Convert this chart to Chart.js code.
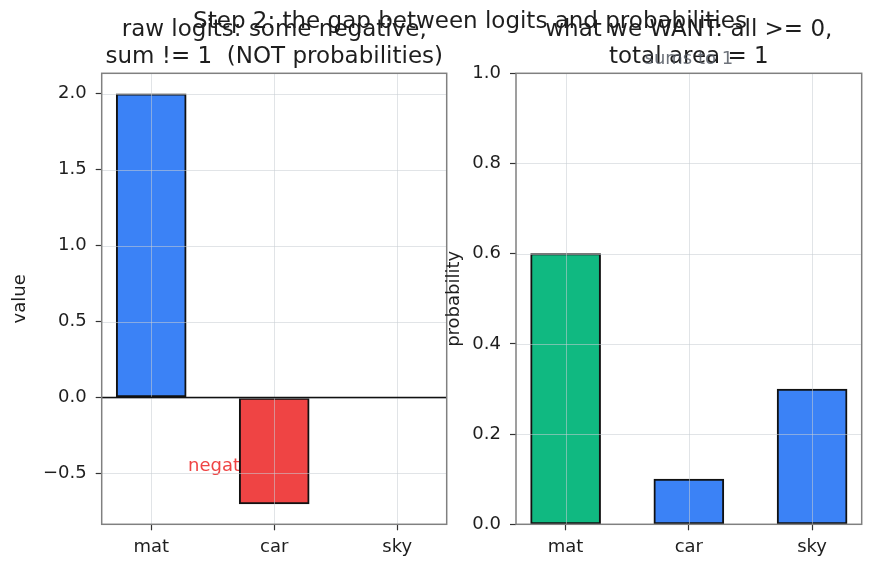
<!DOCTYPE html>
<html>
<head>
<meta charset="utf-8">
<script src="https://cdn.jsdelivr.net/npm/chart.js@4.4.0/dist/chart.umd.min.js"></script>
<style>
    html, body { margin: 0; padding: 0; background: #fff; }
    #wrap { position: relative; width: 875px; height: 572px; }
    .box { position: absolute; top: 0; height: 572px; }
</style>
</head>
<body>
<div id="wrap">
    <div class="box" style="left:0; width:875px;"><canvas id="logitsChart"></canvas></div>
    <div class="box" style="left:440px; width:435px;"><canvas id="probsChart"></canvas></div>
</div>
<script>
// data
const tokens = ['mat', 'car', 'sky'];
const rawLogits = [2.0, -0.7, 0.0];
const targetProbs = [0.6, 0.1, 0.3];
const logitTicks = [-0.5, 0.0, 0.5, 1.0, 1.5, 2.0];
const probTicks = [0.0, 0.2, 0.4, 0.6, 0.8, 1.0];

const BLUE = '#3b82f6';
const RED = '#ef4444';
const GREEN = '#10b981';
const FONT = "'DejaVu Sans', sans-serif";

Chart.defaults.font.family = FONT;
Chart.defaults.font.size = 18;
Chart.defaults.color = '#1e1e1e';

function fmt(v) {
    return (v < 0 ? '\u2212' : '') + Math.abs(v).toFixed(1);
}

// grid over the bars, spines, titles and notes (drawn like the matplotlib figure)
function makeOverlay(cfg) {
    function drawNote(chart, n) {
        const ctx = chart.ctx;
        ctx.save();
        ctx.font = '18px ' + FONT;
        ctx.fillStyle = n.color;
        ctx.textAlign = n.align;
        ctx.textBaseline = n.baseline;
        ctx.fillText(n.text, chart.scales.x.getPixelForValue(n.x), chart.scales.y.getPixelForValue(n.y));
        ctx.restore();
    }
    return {
        id: 'overlay_' + cfg.name,
        beforeDatasetsDraw(chart) {
            (cfg.notes || []).filter(n => n.under).forEach(n => drawNote(chart, n));
        },
        afterDatasetsDraw(chart) {
            const ctx = chart.ctx;
            const a = chart.chartArea;
            const x = chart.scales.x, y = chart.scales.y;
            ctx.save();
            ctx.strokeStyle = 'rgba(200, 205, 212, 0.55)';
            ctx.lineWidth = 1;
            ctx.beginPath();
            x.ticks.forEach(t => {
                const px = Math.round(x.getPixelForValue(t.value)) + 0.5;
                ctx.moveTo(px, a.top); ctx.lineTo(px, a.bottom);
            });
            y.ticks.forEach(t => {
                const py = Math.round(y.getPixelForValue(t.value)) + 0.5;
                ctx.moveTo(a.left, py); ctx.lineTo(a.right, py);
            });
            ctx.stroke();
            if (cfg.zeroLine) {
                const py = y.getPixelForValue(0);
                ctx.strokeStyle = '#111';
                ctx.lineWidth = 1.6;
                ctx.beginPath();
                ctx.moveTo(a.left, py); ctx.lineTo(a.right, py);
                ctx.stroke();
            }
            ctx.strokeStyle = '#808080';
            ctx.lineWidth = 1.5;
            ctx.strokeRect(a.left, a.top, a.right - a.left, a.bottom - a.top);
            ctx.restore();
        },
        afterDraw(chart) {
            const ctx = chart.ctx;
            const a = chart.chartArea;
            const cx = (a.left + a.right) / 2;
            ctx.save();
            ctx.fillStyle = '#1e1e1e';
            ctx.textAlign = 'center';
            ctx.textBaseline = 'alphabetic';
            ctx.font = '23px ' + FONT;
            cfg.title.forEach((line, i) => ctx.fillText(line, cx, 36 + i * 27));
            if (cfg.suptitle) ctx.fillText(cfg.suptitle, 470, 28);
            ctx.font = '18px ' + FONT;
            ctx.translate(cfg.yLabelX, (a.top + a.bottom) / 2);
            ctx.rotate(-Math.PI / 2);
            ctx.fillText(cfg.yLabel, 0, 0);
            ctx.restore();
            (cfg.notes || []).filter(n => !n.under).forEach(n => drawNote(chart, n));
        }
    };
}

function barOptions(yMin, yMax, yTicks, yWidth, rightPad) {
    return {
        responsive: true,
        maintainAspectRatio: false,
        animation: false,
        layout: { padding: { left: 0, top: 73.3, right: rightPad, bottom: 0 } },
        plugins: { legend: { display: false }, tooltip: { enabled: false } },
        scales: {
            x: {
                type: 'linear',
                offset: false,
                min: -0.4025,
                max: 2.4025,
                afterBuildTicks: s => { s.ticks = tokens.map((t, i) => ({ value: i })); },
                afterFit: s => { s.height = 47.7; },
                ticks: { callback: v => tokens[v], padding: 6, color: '#1e1e1e', maxRotation: 0 },
                grid: { offset: false, drawOnChartArea: false, drawTicks: true, tickLength: 6, tickColor: '#333', tickWidth: 1.2 },
                border: { display: false }
            },
            y: {
                min: yMin,
                max: yMax,
                afterBuildTicks: s => { s.ticks = yTicks.map(v => ({ value: v })); },
                afterFit: s => { s.width = yWidth; },
                ticks: { callback: v => fmt(v), padding: 9, color: '#1e1e1e' },
                grid: { drawOnChartArea: false, drawTicks: true, tickLength: 6, tickColor: '#333', tickWidth: 1.2 },
                border: { display: false }
            }
        }
    };
}

document.addEventListener('DOMContentLoaded', function () {
    const logitsCtx = document.getElementById('logitsChart').getContext('2d');
    new Chart(logitsCtx, {
        type: 'bar',
        data: {
            datasets: [{
                label: 'raw logits',
                data: rawLogits.map((v, i) => ({ x: i, y: v })),
                backgroundColor: rawLogits.map(v => v < 0 ? RED : BLUE),
                borderColor: '#111',
                borderWidth: 2,
                borderSkipped: false,
                barThickness: 70
            }]
        },
        options: barOptions(-0.835, 2.135, logitTicks, 101.7, 875 - 446.7),
        plugins: [makeOverlay({
            name: 'logits',
            title: ['raw logits: some negative,', 'sum != 1  (NOT probabilities)'],
            suptitle: 'Step 2: the gap between logits and probabilities',
            yLabel: 'value',
            yLabelX: 25,
            zeroLine: true,
            notes: [{ text: 'negative', x: 0.3, y: -0.45, color: RED, align: 'left', baseline: 'middle', under: true }]
        })]
    });

    const best = targetProbs.indexOf(Math.max(...targetProbs));
    const probsCtx = document.getElementById('probsChart').getContext('2d');
    new Chart(probsCtx, {
        type: 'bar',
        data: {
            datasets: [{
                label: 'probability',
                data: targetProbs.map((v, i) => ({ x: i, y: v })),
                backgroundColor: targetProbs.map((v, i) => i === best ? GREEN : BLUE),
                borderColor: '#111',
                borderWidth: 2,
                borderSkipped: false,
                barThickness: 70
            }]
        },
        options: barOptions(0, 1, probTicks, 76, 435 - 421.7),
        plugins: [makeOverlay({
            name: 'probs',
            title: ['what we WANT: all >= 0,', 'total area = 1'],
            yLabel: 'probability',
            yLabelX: 19,
            notes: [{ text: 'sums to 1', x: 1, y: 1.02, color: 'rgba(85, 90, 100, 0.85)', align: 'center', baseline: 'alphabetic', under: false }]
        })]
    });
});
</script>
</body>
</html>
